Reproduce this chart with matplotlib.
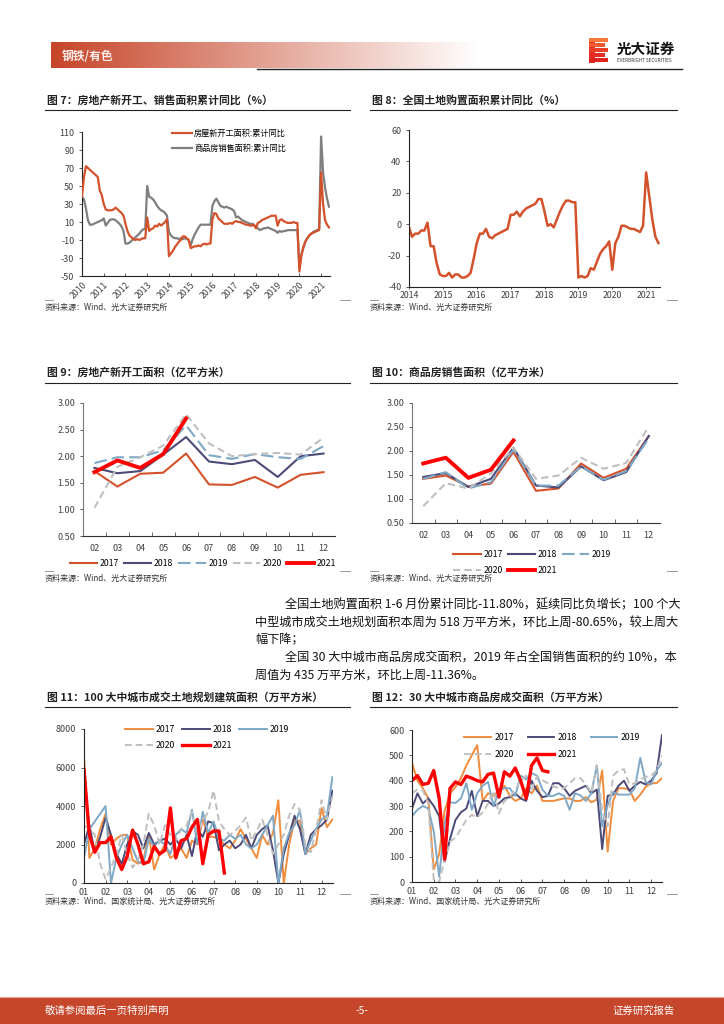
import numpy as np
import matplotlib
matplotlib.use("Agg")
import matplotlib.pyplot as plt
from matplotlib.patches import Rectangle

plt.rcParams["font.family"] = ["Noto Sans CJK SC", "DejaVu Sans"]
plt.rcParams["axes.unicode_minus"] = False

W, H = 724, 1024

# ---------------- data ----------------
# Fig 7: cumulative YoY (%), Feb..Dec each year 2010-2020, Feb..Jun 2021
years7 = list(range(2010, 2022))
newstart_yoy = [
    38, 60, 72, 70, 68, 66, 64, 62, 60, 45, 40,          # 2010
    30, 24, 23, 23, 23, 24, 26, 24, 22, 20, 17,          # 2011
    8, 0, -5, -7, -9, -10, -9, -10, -9, -8, -8,          # 2012
    15, 0, 2, 3, 6, 5, 8, 6, 8, 10, 13,                  # 2013
    -28, -25, -22, -18, -15, -12, -10, -6, -6, -8, -10,  # 2014
    -19, -18, -17, -17, -16, -17, -15, -14, -15, -14, -14,  # 2015
    13, 20, 19, 14, 12, 10, 8, 8, 8, 9, 8,               # 2016
    10, 11, 10, 10, 9, 8, 7, 7, 6, 6, 7,                 # 2017
    3, 9, 10, 12, 13, 14, 15, 16, 17, 17, 17,            # 2018
    6, 12, 13, 11, 10, 9, 9, 9, 10, 9, 9,                # 2019
    -45, -28, -18, -12, -8, -5, -3, -2, -1, 0, 1,        # 2020
    65, 30, 12, 7, 4,                                    # 2021
]
sales_yoy = [
    38, 35, 25, 12, 7, 7, 8, 9, 10, 11, 12,              # 2010
    14, 6, 9, 12, 13, 13, 12, 10, 8, 5, 0,               # 2011
    -14, -14, -13, -11, -9, -7, -5, -3, 0, 2, 2,         # 2012
    50, 38, 37, 35, 32, 28, 25, 23, 22, 20, 17,          # 2013
    -1, -5, -7, -8, -8, -9, -8, -9, -8, -9, -10,         # 2014
    -16, -9, -4, 0, 4, 7, 7, 7, 7, 7, 7,                 # 2015
    28, 33, 36, 32, 28, 27, 26, 27, 26, 25, 24,          # 2016
    22, 15, 16, 14, 12, 11, 10, 9, 8, 8, 7,              # 2017
    4, 3, 1, 2, 3, 3, 4, 3, 2, 1, 0,                     # 2018
    -2, 0, -1, 0, 0, 1, 1, 1, 1, 1, 1,                   # 2019
    -40, -26, -19, -12, -8, -5, -3, -1, 0, 1, 2,         # 2020
    105, 65, 48, 36, 27,                                 # 2021
]
legend7 = ["房屋新开工面积:累计同比", "商品房销售面积:累计同比"]

# Fig 8: land purchase cumulative YoY (%), Feb 2014 .. Jun 2021
years8 = list(range(2014, 2022))
land_yoy = [
    -2, -8, -6, -6, -4, -4, 1, -14, -14, -25, -32,       # 2014
    -33, -33, -31, -34, -32, -32, -34, -34, -33, -31, -22,  # 2015
    -12, -6, -6, -3, -8, -9, -7, -6, -5, -4, -3,         # 2016
    6, 6, 8, 5, 8, 10, 11, 12, 13, 16, 16,               # 2017
    8, -1, 0, -2, 3, 8, 12, 15, 15, 14, 14,              # 2018
    -34, -33, -34, -33, -28, -29, -24, -19, -16, -14, -11,  # 2019
    -29, -12, -8, -1, -1, -2, -3, -3, -4, -5, -1,        # 2020
    33, 18, 3, -8, -12,                                  # 2021
]

# Fig 9 / 10: monthly cumulative area (亿平方米)
months_2_12 = ["02", "03", "04", "05", "06", "07", "08", "09", "10", "11", "12"]
series_years = ["2017", "2018", "2019", "2020", "2021"]
start_2017 = [1.72, 1.43, 1.67, 1.69, 2.05, 1.47, 1.46, 1.61, 1.41, 1.65, 1.70]
start_2018 = [1.78, 1.68, 1.72, 2.03, 2.36, 1.90, 1.85, 1.93, 1.61, 2.00, 2.05]
start_2019 = [1.87, 1.98, 1.98, 2.11, 2.58, 2.02, 1.95, 2.04, 1.98, 1.95, 2.19]
start_2020 = [1.03, 1.80, 1.98, 2.20, 2.79, 2.24, 2.00, 2.04, 2.06, 2.03, 2.35]
start_2021 = [1.70, 1.92, 1.78, 2.04, 2.71]

sold_2017 = [1.42, 1.49, 1.26, 1.32, 1.98, 1.17, 1.22, 1.74, 1.44, 1.63, 2.31]
sold_2018 = [1.46, 1.54, 1.25, 1.42, 2.07, 1.28, 1.24, 1.68, 1.39, 1.56, 2.31]
sold_2019 = [1.42, 1.56, 1.22, 1.35, 2.03, 1.28, 1.28, 1.68, 1.40, 1.58, 2.26]
sold_2020 = [0.85, 1.33, 1.22, 1.53, 2.07, 1.42, 1.49, 1.86, 1.63, 1.75, 2.51]
sold_2021 = [1.74, 1.86, 1.44, 1.61, 2.22]

# Fig 11: 100 cities land deals, weekly (万平方米)
month_labels = ["01", "02", "03", "04", "05", "06", "07", "08", "09", "10", "11", "12"]
land100_2017 = [6600, 1300, 1800, 2800, 3600, 2000, 2300, 2500, 2500, 1200,
                1000, 1200, 2500, 700, 1500, 2000, 1300, 1500, 1800, 1300,
                2200, 2000, 3300, 2400, 2400, 2300, 2000, 1800, 2200, 2800,
                2300, 1800, 1300, 2500, 2000, 2600, 4300, 0, 2000, 3300,
                3200, 1500, 1800, 2000, 3900, 2900, 3300]
land100_2018 = [2000, 3000, 1600, 2400, 3400, 2500, 1500, 1000, 2000, 2700,
                2500, 1800, 2600, 2000, 2200, 2300, 2000, 2300, 1800, 2500,
                1400, 2800, 2400, 3200, 3100, 1700, 2000, 2200, 1800, 2000,
                2500, 1800, 2500, 2800, 3000, 1700, 0, 1500, 2500, 3500,
                2800, 1500, 2500, 2800, 3000, 3300, 4800]
land100_2019 = [1300, 2800, 3200, 3600, 4000, 0, 1300, 2000, 2500, 1800,
                1100, 1000, 2300, 1900, 2200, 2000, 1500, 2500, 2800, 2600,
                3800, 2000, 3700, 2600, 3200, 2300, 2200, 2500, 2300, 2500,
                2000, 1800, 2000, 2500, 3000, 3500, 0, 1800, 2600, 3000,
                3800, 1500, 2200, 2800, 3300, 3500, 5500]
land100_2020 = [3000, 2800, 2500, 1000, 200, 800, 1500, 2500, 1500, 800,
                1200, 2000, 3600, 3000, 2000, 3000, 2500, 2200, 2800, 3000,
                3700, 2600, 3200, 3700, 4800, 3200, 2800, 2500, 2700, 3000,
                3400, 2200, 2700, 3300, 2500, 1500, 2000, 2500, 3500, 4100,
                3800, 2000, 1600, 2800, 4300, 3300, 4500]
land100_2021 = [5900, 2500, 1600, 2100, 2100, 2400, 1300, 700, 1400, 2750,
                2000, 1000, 1100, 1900, 1500, 1700, 3900, 1300, 2200, 2300,
                2900, 3300, 1000, 2500, 2700, 2700, 518]

# Fig 12: 30 cities housing deals, weekly (万平方米)
deal30_2017 = [470, 400, 370, 330, 50, 110, 280, 350, 375, 410,
               460, 500, 540, 320, 350, 340, 360, 380, 340, 320,
               330, 370, 350, 380, 320, 320, 320, 325, 330, 330,
               320, 320, 335, 315, 325, 440, 120, 320, 370, 370,
               365, 320, 345, 375, 390, 390, 410]
deal30_2018 = [290, 350, 310, 330, 300, 260, 80, 170, 245, 275,
               290, 360, 260, 320, 320, 300, 310, 330, 335, 350,
               330, 320, 400, 360, 335, 340, 390, 390, 370, 340,
               360, 370, 380, 350, 365, 130, 340, 345, 380, 400,
               360, 380, 395, 385, 400, 430, 580]
deal30_2019 = [260, 285, 300, 290, 200, 20, 230, 315, 312, 330,
               390, 285, 350, 380, 395, 300, 360, 370, 370, 340,
               420, 405, 430, 420, 365, 340, 340, 350, 340, 285,
               350, 342, 320, 350, 460, 220, 305, 355, 345, 345,
               345, 370, 490, 395, 385, 440, 470]
deal30_2020 = [350, 365, 362, 310, 10, 0, 90, 160, 175, 210,
               245, 265, 255, 275, 310, 360, 270, 320, 335, 365,
               400, 420, 362, 418, 402, 390, 378, 370, 370, 390,
               410, 410, 385, 352, 460, 280, 220, 420, 440, 445,
               385, 390, 405, 415, 420, 440, 500]
deal30_2021 = [400, 420, 385, 390, 440, 330, 90, 370, 395, 385,
               418, 410, 400, 395, 425, 430, 335, 435, 418, 450,
               400, 330, 460, 490, 440, 435]

# ---------------- styles ----------------
C_ORANGE_RED = "#D4522B"
C_NAVY = "#4B4A78"
C_BLUE = "#7EA8C6"
C_GRAY = "#BFBFBF"
C_RED = "#FF0000"
C_ORANGE = "#F08C3C"
TXT = "#404040"

fig = plt.figure(figsize=(W / 100, H / 100), dpi=100)
bg = fig.add_axes([0, 0, 1, 1])
bg.set_xlim(0, W)
bg.set_ylim(H, 0)
bg.axis("off")


def px_axes(l, t, r, b):
    ax = fig.add_axes([l / W, 1 - b / H, (r - l) / W, (b - t) / H])
    ax.set_facecolor("none")
    for s in ["top", "right"]:
        ax.spines[s].set_visible(False)
    ax.tick_params(labelsize=6.5, colors=TXT, length=2, width=0.6)
    for s in ["left", "bottom"]:
        ax.spines[s].set_linewidth(0.8)
        ax.spines[s].set_color("#222222")
    return ax


def frame(x0, x1, y_title, title, y_src, src):
    bg.text(x0 + 2, y_title, title, fontsize=7.8, fontweight="bold",
            color="#222222", va="center")
    bg.plot([x0, x1], [y_title + 10, y_title + 10], color="#222222", lw=0.8)
    bg.plot([x0, x0 + 8], [y_src - 7, y_src - 7], color="#888888", lw=0.6)
    bg.plot([x1 - 10, x1], [y_src - 7, y_src - 7], color="#888888", lw=0.6)
    bg.text(x0, y_src, src, fontsize=5.8, color="#333333", va="center")


# ---------------- header ----------------
grad = np.linspace(0, 1, 300)
c0 = np.array([0.78, 0.27, 0.16])
band = c0[None, :] * (1 - grad[:, None]) + grad[:, None]
bg.imshow(band[None, :, :], extent=(51, 480, 68, 42), aspect="auto", zorder=1)
bg.set_xlim(0, W)
bg.set_ylim(H, 0)
bg.text(62, 56, "钢铁/有色", fontsize=8.5, fontweight="bold", color="#FBEDEA",
        va="center", zorder=2)
bg.plot([257, 682], [68.5, 68.5], color="#222222", lw=1.0)
logo_cols = ["#F4793B", "#EF5A30", "#E83F28", "#E42E24", "#E0231F"]
bg.add_patch(Rectangle((589, 38), 6, 25, color="#E42E24", lw=0))
for i, col in enumerate(logo_cols):
    bg.add_patch(Rectangle((589, 38 + i * 5), 19 - (i % 2) * 3, 3.6, color=col, lw=0))
bg.text(617, 49, "光大证券", fontsize=10.5, fontweight="bold", color="#111111",
        va="center")
bg.text(617, 60.5, "EVERBRIGHT SECURITIES", fontsize=3.3, color="#333333",
        va="center")

# ---------------- footer ----------------
bg.add_patch(Rectangle((0, 998), W, 26, color="#C5462A", lw=0))
bg.plot([0, W], [997, 997], color="#E8A590", lw=0.8)
bg.text(45, 1011, "敬请参阅最后一页特别声明", fontsize=7.5, color="white", va="center")
bg.text(362, 1011, "-5-", fontsize=7.5, color="white", va="center", ha="center")
bg.text(675, 1011, "证券研究报告", fontsize=7.5, color="white", va="center", ha="right")

# ---------------- paragraph ----------------
para = [
    (285, 605, "全国土地购置面积 1-6 月份累计同比-11.80%，延续同比负增长；100 个大"),
    (255, 623, "中型城市成交土地规划面积本周为 518 万平方米，环比上周-80.65%，较上周大"),
    (255, 640, "幅下降；"),
    (285, 658, "全国 30 大中城市商品房成交面积，2019 年占全国销售面积的约 10%，本"),
    (255, 675, "周值为 435 万平方米，环比上周-11.36%。"),
]
for x, y, s in para:
    bg.text(x, y, s, fontsize=8.75, color="#111111", va="center")

src1 = "资料来源：Wind、光大证券研究所"
src2 = "资料来源：Wind、国家统计局、光大证券研究所"
frame(45, 350, 100, "图 7：房地产新开工、销售面积累计同比（%）", 307, src1)
frame(370, 677, 100, "图 8：全国土地购置面积累计同比（%）", 307, src1)
frame(45, 350, 373, "图 9：房地产新开工面积（亿平方米）", 578, src1)
frame(370, 677, 373, "图 10：商品房销售面积（亿平方米）", 578, src1)
frame(45, 350, 697, "图 11：100 大中城市成交土地规划建筑面积（万平方米）", 901, src2)
frame(370, 677, 697, "图 12：30 大中城市商品房成交面积（万平方米）", 901, src2)

# ---------------- Fig 7 ----------------
ax7 = px_axes(82, 132, 330, 276)
idx7 = np.arange(len(newstart_yoy))
ax7.plot(idx7, newstart_yoy, color=C_ORANGE_RED, lw=1.6, label=legend7[0], zorder=3)
ax7.plot(idx7, sales_yoy, color="#7F7F7F", lw=1.6, label=legend7[1], zorder=2)
ax7.set_xlim(0, 125.5)
ax7.set_ylim(-50, 110)
ax7.set_yticks(range(-50, 111, 20))
ax7.set_xticks([11 * i for i in range(len(years7))])
ax7.set_xticklabels([str(y) for y in years7], rotation=45, ha="right",
                    rotation_mode="anchor", fontsize=6.3)
ax7.tick_params(axis="x", direction="in", pad=3)
ax7.legend(loc="upper left", bbox_to_anchor=(168 / W, 1 - 125 / H),
           bbox_transform=fig.transFigure, frameon=False, fontsize=5.9,
           handlelength=2.4, handletextpad=0.3, labelspacing=0.75, borderpad=0)

# ---------------- Fig 8 ----------------
ax8 = px_axes(409, 130, 660, 287)
ax8.plot(np.arange(len(land_yoy)), land_yoy, color=C_ORANGE_RED, lw=1.8)
ax8.set_xlim(0, 81.5)
ax8.set_ylim(-40, 60)
ax8.set_yticks(range(-40, 61, 20))
ax8.set_xticks([11 * i for i in range(len(years8))])
ax8.set_xticklabels([str(y) for y in years8], fontsize=6.3)
ax8.tick_params(axis="x", length=1.5, pad=1.5)

# ---------------- Fig 9 / 10 ----------------
def year_lines(ax, data):
    styles = [
        dict(color=C_ORANGE_RED, lw=1.5),
        dict(color=C_NAVY, lw=1.5),
        dict(color=C_BLUE, lw=1.5, dashes=(6, 2.5)),
        dict(color=C_GRAY, lw=1.5, dashes=(3.5, 2)),
        dict(color=C_RED, lw=2.8),
    ]
    handles = []
    for name, vals, st in zip(series_years, data, styles):
        h, = ax.plot(np.arange(len(vals)), vals, label=name, **st)
        handles.append(h)
    return handles


def cat_axis(ax, ymin, ymax):
    ax.set_xlim(-0.5, 10.5)
    ax.set_ylim(ymin, ymax)
    ax.set_yticks(np.arange(0.5, 3.01, 0.5))
    ax.set_yticklabels([f"{v:.2f}" for v in np.arange(0.5, 3.01, 0.5)])
    ax.set_xticks(range(len(months_2_12)))
    ax.set_xticklabels(months_2_12)
    ax.set_xticks(np.arange(0.5, 10.5, 1), minor=True)
    ax.tick_params(axis="x", which="major", length=0, pad=6)
    ax.tick_params(axis="x", which="minor", direction="in", length=3, width=0.6,
                   color="#555555")
    ax.spines["left"].set_color("#777777")
    ax.spines["bottom"].set_color("#333333")


ax9 = px_axes(83, 403, 335, 536)
h9 = year_lines(ax9, [start_2017, start_2018, start_2019, start_2020, start_2021])
cat_axis(ax9, 0.5, 3.0)
ax9.legend(handles=h9, loc="center", bbox_to_anchor=(203 / W, 1 - 564 / H),
           bbox_transform=fig.transFigure, ncol=5, frameon=False, fontsize=6.3,
           handlelength=3.1, handletextpad=0.3, columnspacing=0.6, borderpad=0)

ax10 = px_axes(412, 403, 660, 523)
h10 = year_lines(ax10, [sold_2017, sold_2018, sold_2019, sold_2020, sold_2021])
cat_axis(ax10, 0.5, 3.0)
ax10.legend(handles=[h10[0], h10[3], h10[1], h10[4], h10[2]], loc="upper left",
            bbox_to_anchor=(449 / W, 1 - 546 / H), bbox_transform=fig.transFigure,
            ncol=3, frameon=False, fontsize=6.3, handlelength=3.1,
            handletextpad=0.3, columnspacing=0.6, labelspacing=0.75, borderpad=0)

# ---------------- Fig 11 / 12 ----------------
def weekly_lines(ax, data):
    styles = [
        dict(color=C_ORANGE, lw=1.4),
        dict(color=C_NAVY, lw=1.4),
        dict(color=C_BLUE, lw=1.4),
        dict(color=C_GRAY, lw=1.4, dashes=(3.5, 2)),
        dict(color=C_RED, lw=2.4),
    ]
    handles = []
    for name, vals, st in zip(series_years, data, styles):
        x = 1 + 0.25 * np.arange(len(vals))
        h, = ax.plot(x, vals, label=name, **st)
        handles.append(h)
    ax.set_xlim(1, 12.53)
    ax.set_xticks(range(1, 13))
    ax.set_xticklabels(month_labels)
    ax.tick_params(axis="x", direction="in", length=2)
    return handles


ax11 = px_axes(84, 729, 333, 883)
h11 = weekly_lines(ax11, [land100_2017, land100_2018, land100_2019,
                          land100_2020, land100_2021])
ax11.set_ylim(0, 8000)
ax11.set_yticks(range(0, 8001, 2000))
ax11.legend(handles=[h11[0], h11[3], h11[1], h11[4], h11[2]], loc="upper left",
            bbox_to_anchor=(121 / W, 1 - 721 / H), bbox_transform=fig.transFigure,
            ncol=3, frameon=False, fontsize=6.3, handlelength=3.2,
            handletextpad=0.3, columnspacing=0.8, labelspacing=0.75, borderpad=0)

ax12 = px_axes(412, 730, 662, 882)
h12 = weekly_lines(ax12, [deal30_2017, deal30_2018, deal30_2019,
                          deal30_2020, deal30_2021])
ax12.set_xlim(1, 12.5)
ax12.set_ylim(0, 600)
ax12.set_yticks(range(0, 601, 100))
ax12.legend(handles=[h12[0], h12[3], h12[1], h12[4], h12[2]], loc="upper left",
            bbox_to_anchor=(460 / W, 1 - 729 / H), bbox_transform=fig.transFigure,
            ncol=3, frameon=False, fontsize=6.3, handlelength=3.0,
            handletextpad=0.4, columnspacing=1.6, labelspacing=0.85, borderpad=0)

fig.savefig("out.png", dpi=100)
